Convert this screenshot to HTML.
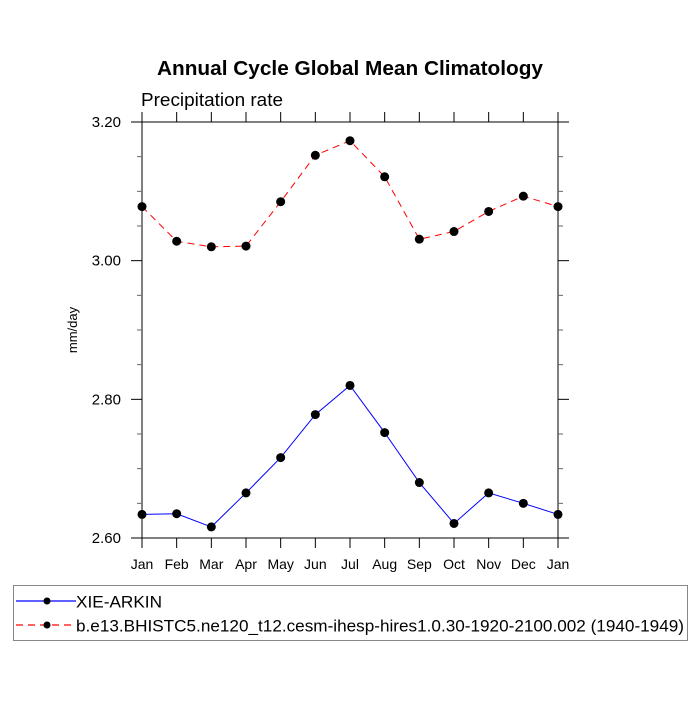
<!DOCTYPE html>
<html><head><meta charset="utf-8"><style>
body{margin:0;background:#fff;}
svg text{font-family:"Liberation Sans",Arial,sans-serif;}
</style></head><body>
<svg id="chart" width="700" height="700" xmlns="http://www.w3.org/2000/svg">
<text x="157" y="75" font-size="20" font-weight="bold" textLength="386" lengthAdjust="spacingAndGlyphs">Annual Cycle Global Mean Climatology</text>
<text x="141" y="106" font-size="18" textLength="142" lengthAdjust="spacingAndGlyphs">Precipitation rate</text>
<text transform="translate(77,330) rotate(-90)" text-anchor="middle" font-size="13">mm/day</text>
<g id="axes"></g>
<g id="series"></g>
<g>
<rect x="13.5" y="585.5" width="674" height="55" fill="none" stroke="#888" stroke-width="1"/>
<g>
<line x1="16" y1="601" x2="76" y2="601" stroke="#0000ff" stroke-width="1.2"/>
<circle cx="47" cy="601" r="3.5" fill="#000"/>
<text x="76" y="607.5" font-size="17" textLength="86" lengthAdjust="spacingAndGlyphs">XIE-ARKIN</text>
</g>
<g>
<line x1="16" y1="625" x2="76" y2="625" stroke="#ff0000" stroke-width="1.2" stroke-dasharray="7,5"/>
<circle cx="47" cy="625" r="3.5" fill="#000"/>
<text x="76" y="631.5" font-size="17" textLength="608" lengthAdjust="spacingAndGlyphs">b.e13.BHISTC5.ne120_t12.cesm-ihesp-hires1.0.30-1920-2100.002 (1940-1949)</text>
</g>
</g>
</svg>
<script>
const months = ["Jan","Feb","Mar","Apr","May","Jun","Jul","Aug","Sep","Oct","Nov","Dec","Jan"];
const obsValues = [2.634,2.635,2.616,2.665,2.716,2.778,2.820,2.752,2.680,2.621,2.665,2.650,2.634];
const modelValues = [3.078,3.028,3.020,3.021,3.085,3.152,3.173,3.121,3.031,3.042,3.071,3.093,3.078];
const yTicks = [2.60,2.80,3.00,3.20];
const yMin = 2.60, yMax = 3.20;
const L=142, R=558, T=122, B=538;
const NS="http://www.w3.org/2000/svg";
function xs(i){return L+(R-L)*i/(months.length-1);}
function ys(v){return B-(v-yMin)/(yMax-yMin)*(B-T);}
function mk(tag,attrs,parent){const e=document.createElementNS(NS,tag);for(const k in attrs)e.setAttribute(k,attrs[k]);parent.appendChild(e);return e;}
const axes=document.getElementById('axes');
const frame=mk('rect',{x:L,y:T,width:R-L,height:B-T,fill:'none',stroke:'#000','stroke-width':1},axes);


months.forEach((m,i)=>{
  const x=xs(i);
  mk('line',{x1:x,y1:B,x2:x,y2:B+10,stroke:'#000'},axes);
  mk('line',{x1:x,y1:T,x2:x,y2:T-10,stroke:'#000'},axes);
  const t=mk('text',{x:x,y:B+31,'text-anchor':'middle','font-size':14},axes);
  t.textContent=m;
  
  
});
for(let v=yMin;v<=yMax+1e-9;v+=0.05){
  const y=ys(v);
  const major=yTicks.some(t=>Math.abs(t-v)<1e-6);
  const len=major?11:5;
  mk('line',{x1:L,y1:y,x2:L-len,y2:y,stroke:major?'#000':'#666'},axes);
  mk('line',{x1:R,y1:y,x2:R+len,y2:y,stroke:major?'#000':'#666'},axes);
}
yTicks.forEach(v=>{
  const t=mk('text',{x:121,y:ys(v)+5,'text-anchor':'end','font-size':15},axes);
  t.textContent=v.toFixed(2);
  
  
});
const series=document.getElementById('series');
function draw(vals,color,dash,name){
  const g=mk('g',{},series);
  
  
  const pts=vals.map((v,i)=>xs(i)+','+ys(v)).join(' ');
  const a={points:pts,fill:'none',stroke:color,'stroke-width':1};
  if(dash)a['stroke-dasharray']=dash;
  mk('polyline',a,g);
  vals.forEach((v,i)=>{
    const c=mk('circle',{cx:xs(i),cy:ys(v),r:4.5,fill:'#000'},g);
    
    
  });
}
draw(obsValues,'#00f',null,'series-xie-arkin');
draw(modelValues,'#f00','7,5','series-cesm');
</script>
</body></html>
